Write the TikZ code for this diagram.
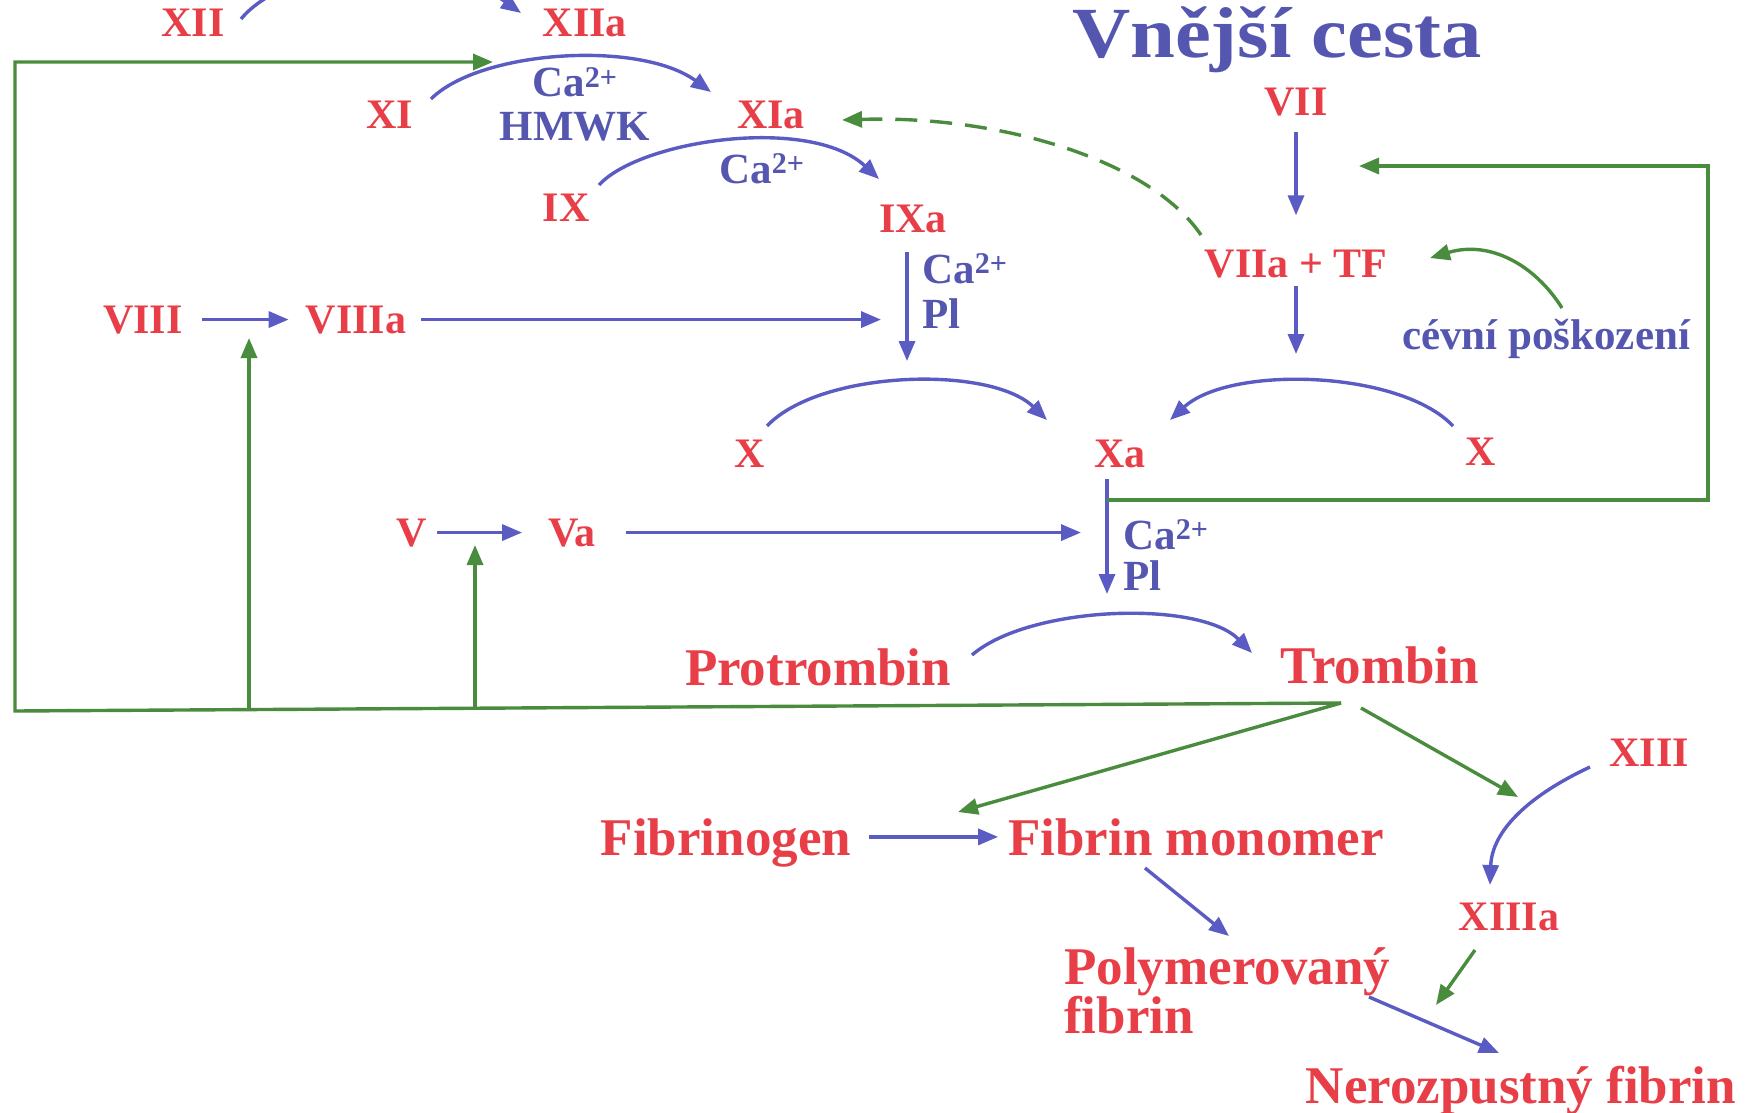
\documentclass[tikz,border=0pt]{standalone}
\usepackage{fontspec}
\setmainfont{Liberation Serif}
\usetikzlibrary{arrows.meta}
\definecolor{redc}{HTML}{E83E48}
\definecolor{bluec}{HTML}{5A5CC4}
\definecolor{bluet}{HTML}{5456B0}
\definecolor{greenc}{HTML}{4A8C3E}
\begin{document}
\begin{tikzpicture}[x=1pt,y=-1pt,
  rl/.style={text=redc, font=\bfseries\fontsize{42}{44}\selectfont, inner sep=0pt, anchor=base},
  rlbig/.style={text=redc, font=\bfseries\fontsize{53}{47}\selectfont, inner sep=0pt, anchor=base},
  bl/.style={text=bluet, font=\bfseries\fontsize{43}{45}\selectfont, inner sep=0pt, anchor=base},
  blw/.style={bl, anchor=base west},
  titlelab/.style={text=bluet, font=\bfseries\fontsize{72}{76}\selectfont, inner sep=0pt, anchor=base},
  barrow/.style={draw=bluec, line width=3.4pt, -{Triangle[length=20pt,width=16pt]}},
  garrow/.style={draw=greenc, line width=3.4pt, -{Triangle[length=20pt,width=16pt]}},
]
\useasboundingbox (0,0) rectangle (1756,1113);
\clip (0,0) rectangle (1756,1113);
\fill[white] (0,0) rectangle (1756,1113);

% title
\node[titlelab] (title) at (1277,58) {\scalebox{1.12}[1]{Vnější cesta}};

% red labels
\node[rl] (xii) at (193,37) {XII};
\node[rl] (xiia) at (585,37) {XIIa};
\node[rl] (xi) at (390,129) {XI};
\node[rl] (xia) at (771,129) {XIa};
\node[rl] (ix) at (566,221) {IX};
\node[rl] (ixa) at (913,232) {IXa};
\node[rl] (vii) at (1296,116) {VII};
\node[rl] (viiatf) at (1296,277) {VIIa + TF};
\node[rl] (viii) at (143,333) {VIII};
\node[rl] (viiia) at (356,333) {VIIIa};
\node[rl] (xl) at (750,467) {X};
\node[rl] (xa) at (1120,467) {Xa};
\node[rl] (xr) at (1481,465) {X};
\node[rl] (v) at (412,546) {V};
\node[rl] (va) at (572,546) {Va};
\node[rlbig] (pro) at (818,685) {Protrombin};
\node[rlbig] (tro) at (1380,683) {Trombin};
\node[rlbig] (fgen) at (726,855) {Fibrinogen};
\node[rlbig] (fmon) at (1196,855) {Fibrin monomer};
\node[rl] (xiii) at (1649,766) {XIII};
\node[rl] (xiiia) at (1509,930) {XIIIa};
\node[rlbig, anchor=north west, align=left] (poly) at (1064,947) {Polymerovaný\\fibrin};
\node[rlbig] (nero) at (1521,1103) {Nerozpustný fibrin};

% blue labels
\node[bl] (ca1) at (575,97) {Ca\textsuperscript{2+}};
\node[bl] (hmwk) at (575,140) {HMWK};
\node[bl] (ca2) at (762,183) {Ca\textsuperscript{2+}};
\node[blw] (ca3) at (922,283) {Ca\textsuperscript{2+}};
\node[blw] (pl3) at (922,328) {Pl};
\node[blw] (ca4) at (1123,549) {Ca\textsuperscript{2+}};
\node[blw] (pl4) at (1123,590) {Pl};
\node[bl] (cevni) at (1546,349) {cévní poškození};

% coordinates
\coordinate (a1s) at (241,19);   \coordinate (a1e) at (521,13);
\coordinate (a2s) at (431,99);   \coordinate (a2e) at (711,92);
\coordinate (a3s) at (599,185);  \coordinate (a3e) at (879,179);
\coordinate (ixs) at (907,252);  \coordinate (ixe) at (907,361);
\coordinate (viiitip) at (881,317);
\coordinate (vatip) at (1081,534);
\coordinate (viie) at (1296,354);
\coordinate (xas) at (1107,479); \coordinate (xae) at (1107,594);
\coordinate (xaj) at (1107,500);
\coordinate (gr1) at (1708,500); \coordinate (gr2) at (1708,166); \coordinate (gr3) at (1359,166);
\coordinate (tj) at (1341,703);  \coordinate (tj2) at (1361,708);
\coordinate (bl1) at (15,711);   \coordinate (bl2) at (15,62); \coordinate (gtop) at (493,62);
\coordinate (v8b) at (249,709.6); \coordinate (v8t) at (249,338);
\coordinate (v5b) at (475,708.2); \coordinate (v5t) at (475,545);
\coordinate (dshs) at (1201,235); \coordinate (dshe) at (842,120);
\coordinate (cvs) at (1562,308);  \coordinate (cve) at (1430,258);
\coordinate (xls) at (767,426);   \coordinate (xle) at (1047,420);
\coordinate (xrs) at (1453,426);  \coordinate (xre) at (1170,420);
\coordinate (ps) at (972,655);    \coordinate (pe) at (1252,653);
\coordinate (fmt) at (958,812);   \coordinate (x13t) at (1518,797);
\coordinate (x13s) at (1590,767); \coordinate (x13e) at (1490,885);
\coordinate (fps) at (1145,868);  \coordinate (fpe) at (1229,936);
\coordinate (x13as) at (1475,950); \coordinate (x13ae) at (1436,1005);
\coordinate (pns) at (1369,997);  \coordinate (pne) at (1499,1053);

% blue reaction arcs
\draw[barrow] (a1s) .. controls (290,-40) and (440,-45) .. (a1e);
\draw[barrow] (a2s) .. controls (480,50) and (640,40) .. (a2e);
\draw[barrow] (a3s) .. controls (640,140) and (810,115) .. (a3e);
\draw[barrow] (xls) .. controls (820,370) and (990,365) .. (xle);
\draw[barrow] (xrs) .. controls (1400,370) and (1230,365) .. (xre);
\draw[barrow] (ps) .. controls (1030,605) and (1200,600) .. (pe);
\draw[barrow] (x13s) .. controls (1530,795) and (1492,830) .. (x13e);

% blue straight arrows
\draw[barrow, shorten <=19pt, shorten >=17pt] (viii.east) -- (viiia.west);
\draw[barrow, shorten <=15pt] (viiia.east) -- (viiia.east -| viiitip);
\draw[barrow, shorten <=10pt, shorten >=26pt] (v.east) -- (va.west);
\draw[barrow, shorten <=30pt] (va.east) -- (va.east -| vatip);
\draw[barrow] (ixs) -- (ixe);
\draw[barrow, shorten <=16pt, shorten >=34pt] (vii.base) -- (viiatf.north);
\draw[barrow, shorten <=9pt] (viiatf.base) -- (viie);
\draw[barrow] (xas) -- (xae);
\draw[barrow, shorten <=18pt, shorten >=10pt] (fgen.east |- fmon.west) -- (fmon.west);
\draw[barrow] (fps) -- (fpe);
\draw[barrow] (pns) -- (pne);

% green feedback
\draw[garrow] (tj) -- (bl1) -- (bl2) -- (gtop);
\draw[garrow] (v8b) -- (v8t);
\draw[garrow] (v5b) -- (v5t);
\draw[garrow] (xaj) -- (gr1) -- (gr2) -- (gr3);
\draw[garrow] (tj) -- (fmt);
\draw[garrow] (tj2) -- (x13t);
\draw[garrow] (x13as) -- (x13ae);
\draw[garrow] (cvs) .. controls (1535,265) and (1490,240) .. (cve);
\draw[garrow, dash pattern=on 22pt off 13pt] (dshs) .. controls (1150,160) and (1000,115) .. (dshe);
\end{tikzpicture}
\end{document}
